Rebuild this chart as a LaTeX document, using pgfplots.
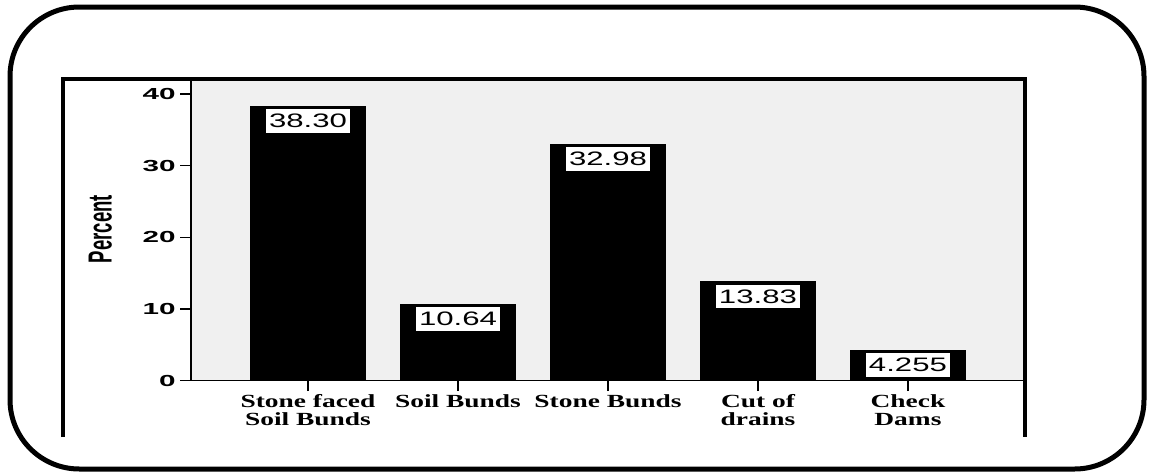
\documentclass[border=0pt]{standalone}
\usepackage{fontspec}
\usepackage{graphicx}
\usepackage{pgfplots}
\pgfplotsset{compat=1.18}
\setmainfont{Liberation Serif}
\newfontfamily\valfont[FakeStretch=1.6]{Liberation Sans}
\newfontfamily\ytfont[FakeStretch=1.85]{Liberation Sans}
\newfontfamily\xtfont[FakeStretch=1.48]{Liberation Serif}
\newfontfamily\labfont{Liberation Sans}
\definecolor{plotbg}{RGB}{240,240,240}
\begin{document}
\begin{tikzpicture}
\path (0pt,0pt) rectangle (862.5pt,-356.25pt);
\begin{axis}[
  at={(143.25pt,-285.4pt)}, anchor=south west,
  scale only axis, width=624pt, height=224.6pt,
  xmin=-0.78, xmax=4.767, ymin=0, ymax=41.8,
  axis x line*=bottom, axis y line*=left,
  axis line style={line width=1.1pt, black},
  axis background/.style={fill=plotbg},
  ybar, bar width=0.767,
  xtick={0,1,2,3,4},
  xticklabels={{Stone faced\\Soil Bunds},{Soil Bunds},{Stone Bunds},{Cut of\\drains},{Check\\Dams}},
  xticklabel style={font=\xtfont\bfseries\fontsize{13.9}{13.6}\selectfont, align=center, yshift=1pt},
  ytick={0,10,20,30,40},
  yticklabels={0,10,20,30,40},
  yticklabel style={font=\ytfont\bfseries\fontsize{12}{14}\selectfont},
  tick align=outside, major tick length=8pt,
  tick style={line width=1.1pt, black},
  ylabel={\scalebox{1}[1.8]{Percent}},
  ylabel style={font=\labfont\bfseries\fontsize{13.9}{16}\selectfont, at={(axis description cs:-0.109,0.506)}, anchor=center},
  point meta=explicit symbolic,
  nodes near coords,
  nodes near coords style={anchor=north, yshift=-1.5pt, fill=white, draw=black, line width=0.8pt, font=\valfont\fontsize{14.6}{16}\selectfont, inner xsep=3pt, inner ysep=0pt, minimum height=18.5pt},
]
\addplot[fill=black, draw=black] coordinates {(0,38.30) [38.30] (1,10.64) [10.64] (2,32.98) [32.98] (3,13.83) [13.83] (4,4.255) [4.255]};
\end{axis}
\begin{scope}[x=0.75pt,y=-0.75pt]
\draw[line width=3pt] (63,437) -- (63,79) -- (1025,79) -- (1025,437);
\draw[line width=3.75pt, rounded corners=52pt] (10,7) rectangle (1144,469);
\end{scope}
\end{tikzpicture}
\end{document}
